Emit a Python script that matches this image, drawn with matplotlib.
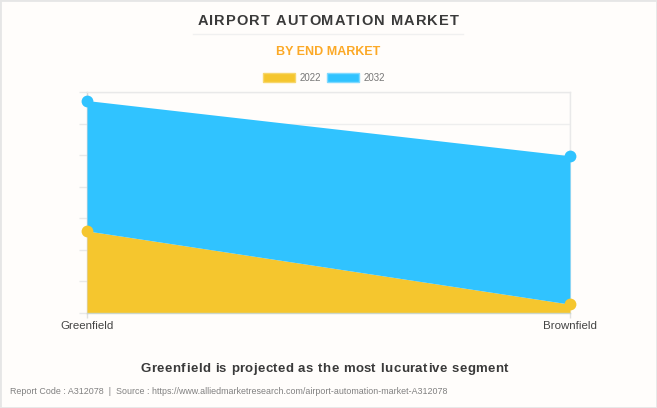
"""Airport automation market area chart."""
import matplotlib
matplotlib.use('Agg')
import matplotlib.pyplot as plt
from matplotlib.lines import Line2D
from matplotlib.patches import Patch, Rectangle

categories = ['Greenfield', 'Brownfield']
values_2022 = [26.0, 2.8]
values_2032 = [67.3, 49.8]
y_ticks = [0, 10, 20, 30, 40, 50, 60, 70]

BG = '#fffdfb'
YELLOW = '#f5c62e'
BLUE = '#30c3ff'
W, H = 657, 408

plt.rcParams['font.family'] = ['Liberation Sans', 'DejaVu Sans']


def spaced_text(fig, cx, baseline, s, gap, **kw):
    """Centered text with extra letter spacing (gap in px), one Text per char."""
    rend = fig.canvas.get_renderer()

    def ink_width(txt):
        probe = fig.text(0, 0, txt, **kw)
        w = probe.get_window_extent(rend).width
        probe.remove()
        return w

    # advance of a glyph = width between two H's minus the H's alone
    base = ink_width('HH')
    widths = [ink_width('H' + ch + 'H') - base for ch in s]
    total = sum(widths) + gap * (len(s) - 1)
    left = cx - total / 2
    for ch, w in zip(s, widths):
        if ch != ' ':
            fig.text(left / W, 1 - baseline / H, ch, ha='left', va='baseline', **kw)
        left += w + gap


fig = plt.figure(figsize=(W / 100, H / 100), dpi=100, facecolor=BG)
ax = fig.add_axes([87 / W, 1 - 313 / H, (570 - 87) / W, (313 - 92) / H], facecolor=BG)

x = range(len(categories))
ax.fill_between(x, values_2022, color=YELLOW, linewidth=0, zorder=2)
ax.fill_between(x, values_2022, values_2032, color=BLUE, linewidth=0, zorder=2)
ax.plot(x, values_2022, 'o', color=YELLOW, markersize=8.5, markeredgewidth=0, clip_on=False, zorder=4)
ax.plot(x, values_2032, 'o', color=BLUE, markersize=8.5, markeredgewidth=0, clip_on=False, zorder=4)

ax.set_xlim(0, 1)
ax.set_ylim(0, 70)
ax.set_xticks(list(x))
ax.set_xticklabels(categories, fontsize=8.25, color='#444444')
ax.set_yticks(y_ticks)
ax.set_yticklabels([])
ax.tick_params(axis='y', length=5.8, color='#e9e9e9', width=1)
ax.tick_params(axis='x', length=3.6, color='#e0e0e0', width=1, pad=2)
ax.grid(True, color='#eeeeee', linewidth=1, zorder=0)
ax.set_axisbelow(True)
for side, spine in ax.spines.items():
    spine.set_color('#e9e9e9')
    spine.set_linewidth(1)
    spine.set_zorder(1)
ax.spines['left'].set_color('#d6d6d6')
ax.spines['bottom'].set_color('#ccd6c8')
ax.spines['bottom'].set_zorder(3)

# Titles
spaced_text(fig, 328, 25, 'AIRPORT AUTOMATION MARKET', 1.05,
            fontsize=10.5, fontweight='bold', color='#3a3a3a')
fig.add_artist(Line2D([193 / W, 463 / W], [1 - 33.5 / H] * 2, color='#f0f0f0', linewidth=1))
fig.text(328.5 / W, 1 - 52 / H, 'BY END MARKET', ha='center', va='center',
         fontsize=9, fontweight='bold', color='#fca926')

# Legend
handles = [Patch(facecolor=YELLOW, edgecolor='#f7d66a', label='2022'),
           Patch(facecolor=BLUE, edgecolor='#7fd9ff', label='2032')]
fig.legend(handles=handles, loc='center', bbox_to_anchor=(324 / W, 1 - 78 / H), ncol=2,
           frameon=False, handlelength=3.3, handleheight=1.0, handletextpad=0.45,
           columnspacing=0.65, borderpad=0, labelcolor='#777777',
           prop={'family': 'Liberation Sans', 'size': 7})

# Footer
spaced_text(fig, 324.5, 372, 'Greenfield is projected as the most lucurative segment', 0.45,
            fontsize=9.5, fontweight='bold', color='#3a3a3a')
fig.text(10 / W, 1 - 391 / H,
         'Report Code : A312078  |  Source : https://www.alliedmarketresearch.com/airport-automation-market-A312078',
         ha='left', va='center', fontsize=6.4, color='#808080')

# Outer frame
fig.add_artist(Rectangle((0, 0), 1, 1, transform=fig.transFigure, fill=False,
                         edgecolor='#e6e6e6', linewidth=2))

fig.savefig('out.png', dpi=100, facecolor=BG)
plt.close(fig)
